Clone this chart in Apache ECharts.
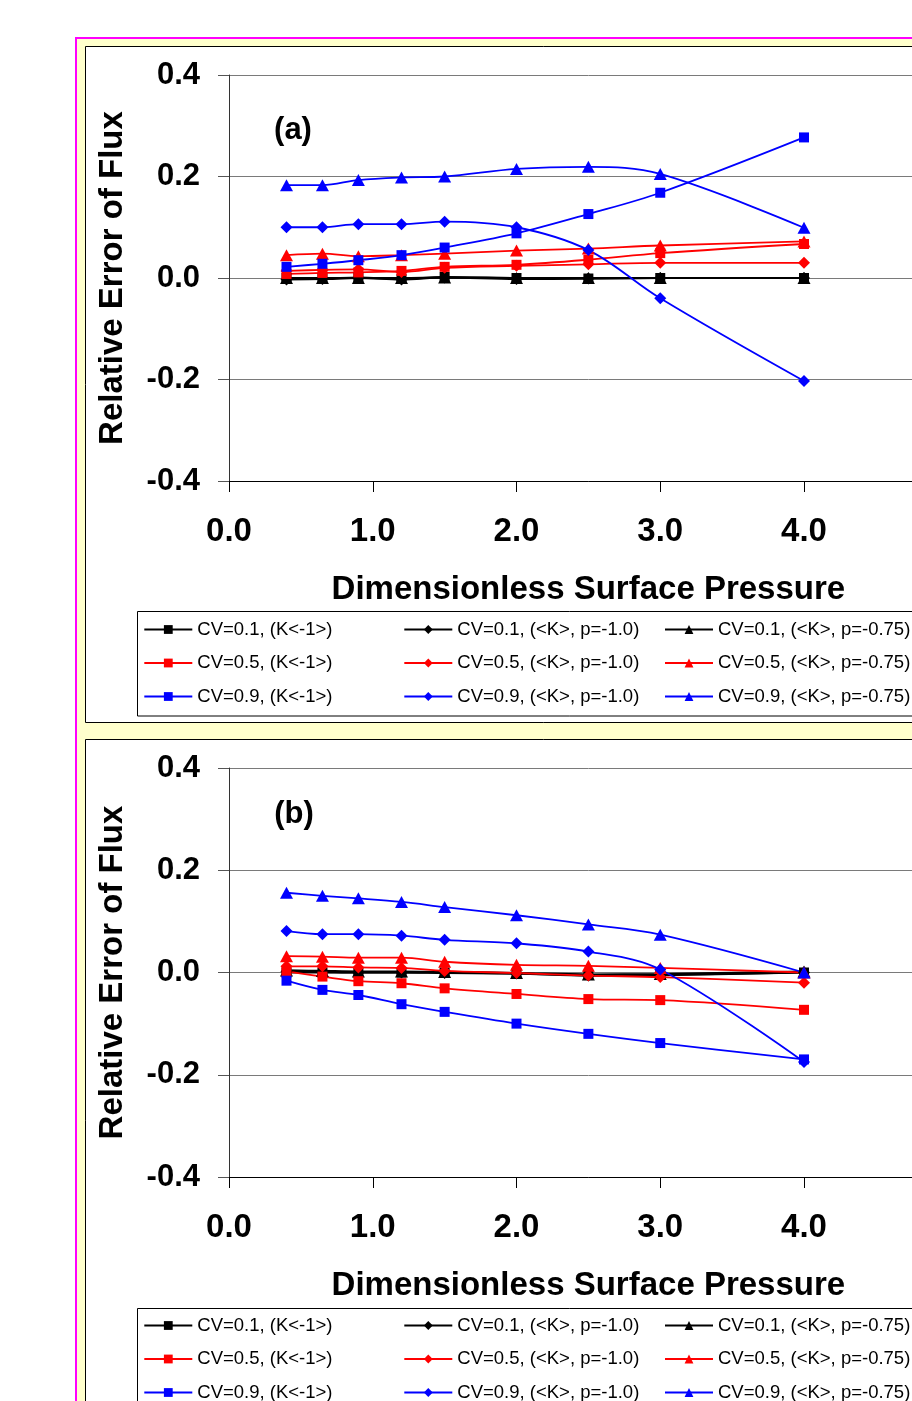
<!DOCTYPE html>
<html><head><meta charset="utf-8">
<script src="https://cdn.jsdelivr.net/npm/echarts@6/dist/echarts.min.js"></script>
<style>html,body{margin:0;padding:0;overflow:hidden;background:#fff;width:912px;height:1401px}#c{width:1000px;height:1500px}</style>
</head><body><div id="c"></div>
<script>
// x values (dimensionless surface pressure)
const pressures = [0.4, 0.65, 0.9, 1.2, 1.5, 2.0, 2.5, 3.0, 4.0];
const xTicks = ['0.0', '1.0', '2.0', '3.0', '4.0'];
const yTicks = ['-0.4', '-0.2', '0.0', '0.2', '0.4'];

// Panel (a)
const a_cv01_K    = [0.000, -0.001, 0.001, -0.002, 0.002, 0.000, -0.001, 0.000, 0.000];
const a_cv01_p10  = [-0.003, -0.002, 0.000, -0.003, 0.001, -0.002, -0.001, 0.000, 0.000];
const a_cv01_p075 = [0.000, 0.000, 0.000, 0.000, 0.001, 0.000, 0.000, 0.000, 0.000];
const a_cv05_K    = [0.008, 0.010, 0.011, 0.014, 0.022, 0.026, 0.036, 0.049, 0.067];
const a_cv05_p10  = [0.014, 0.016, 0.017, 0.012, 0.020, 0.024, 0.027, 0.030, 0.030];
const a_cv05_p075 = [0.045, 0.048, 0.043, 0.045, 0.048, 0.054, 0.058, 0.064, 0.072];
const a_cv09_K    = [0.022, 0.028, 0.035, 0.045, 0.060, 0.088, 0.126, 0.168, 0.277];
const a_cv09_p10  = [0.100, 0.100, 0.106, 0.106, 0.111, 0.100, 0.055, -0.040, -0.203];
const a_cv09_p075 = [0.183, 0.183, 0.193, 0.198, 0.200, 0.215, 0.219, 0.205, 0.099];

// Panel (b)
const b_cv01_K    = [0.000, 0.000, 0.000, 0.000, 0.000, -0.002, -0.005, -0.004, 0.000];
const b_cv01_p10  = [0.002, 0.001, 0.000, 0.000, -0.001, -0.002, -0.006, -0.005, 0.000];
const b_cv01_p075 = [0.004, 0.003, 0.002, 0.002, 0.001, -0.001, -0.004, -0.003, 0.002];
const b_cv05_K    = [0.002, -0.008, -0.017, -0.021, -0.031, -0.042, -0.052, -0.054, -0.073];
const b_cv05_p10  = [0.012, 0.012, 0.010, 0.009, 0.003, -0.001, -0.006, -0.009, -0.020];
const b_cv05_p075 = [0.032, 0.031, 0.029, 0.029, 0.021, 0.015, 0.013, 0.009, 0.000];
const b_cv09_K    = [-0.016, -0.034, -0.044, -0.062, -0.077, -0.100, -0.120, -0.138, -0.170];
const b_cv09_p10  = [0.081, 0.075, 0.075, 0.072, 0.064, 0.057, 0.041, 0.006, -0.175];
const b_cv09_p075 = [0.156, 0.150, 0.145, 0.138, 0.128, 0.112, 0.094, 0.074, 0.000];

const cvLabels = ['CV=0.1', 'CV=0.5', 'CV=0.9'];
const typeLabels = ['(K<-1>)', '(<K>, p=-1.0)', '(<K>, p=-0.75)'];
const panelLabels = ['(a)', '(b)'];
const xTitle = 'Dimensionless Surface Pressure';
const yTitle = 'Relative Error of Flux';

const panelData = [
  [[a_cv01_K, a_cv01_p10, a_cv01_p075], [a_cv05_K, a_cv05_p10, a_cv05_p075], [a_cv09_K, a_cv09_p10, a_cv09_p075]],
  [[b_cv01_K, b_cv01_p10, b_cv01_p075], [b_cv05_K, b_cv05_p10, b_cv05_p075], [b_cv09_K, b_cv09_p10, b_cv09_p075]]
];

const colors = ['#000000', '#FF0000', '#0000FF'];
const symbols = ['rect', 'diamond', 'triangle'];
const symSizes = [10, 12, [13, 12]];
const FONT = '"Liberation Sans", Arial, sans-serif';

const gridTops = [75, 768];
const gridHeights = [406, 409];
const gridLeft = 229;
const gridWidth = 718.75;

const grids = [], xAxes = [], yAxes = [], series = [], legends = [];
const fmt = v => (Math.abs(v) < 1e-9 ? 0 : v).toFixed(1);

for (let p = 0; p < 2; p++) {
  grids.push({left: gridLeft, top: gridTops[p], width: gridWidth, height: gridHeights[p], containLabel: false});
  xAxes.push({
    gridIndex: p, type: 'value', min: 0, max: 5, interval: 1,
    axisLine: {show: true, onZero: false, lineStyle: {color: '#000', width: 1}},
    axisTick: {show: true, inside: false, length: 11, lineStyle: {color: '#000'}},
    axisLabel: {margin: 34, fontSize: 33, fontWeight: 'bold', color: '#000', fontFamily: FONT, formatter: fmt},
    splitLine: {show: false},
    name: xTitle, nameLocation: 'middle', nameGap: 109,
    nameTextStyle: {fontSize: 33, fontWeight: 'bold', color: '#000', fontFamily: FONT, verticalAlign: 'middle'}
  });
  yAxes.push({
    gridIndex: p, type: 'value', min: -0.4, max: 0.4, interval: 0.2,
    axisLine: {show: true, onZero: false, lineStyle: {color: '#333', width: 1}},
    axisTick: {show: true, inside: false, length: 11, lineStyle: {color: '#555'}},
    axisLabel: {margin: 29, fontSize: 31, fontWeight: 'bold', color: '#000', fontFamily: FONT, formatter: fmt},
    splitLine: {show: true, lineStyle: {color: '#7a7a7a', width: 1}},
    name: yTitle, nameLocation: 'middle', nameGap: 116, nameRotate: 90,
    nameTextStyle: {fontSize: 33, fontWeight: 'bold', color: '#000', fontFamily: FONT, verticalAlign: 'middle'}
  });
  for (let i = 0; i < 3; i++) {
    for (let j = 0; j < 3; j++) {
      const vals = panelData[p][i][j];
      series.push({
        type: 'line', name: cvLabels[i] + ', ' + typeLabels[j],
        xAxisIndex: p, yAxisIndex: p,
        data: pressures.map((x, k) => [x, vals[k]]),
        smooth: 0.35,
        symbol: symbols[j], symbolSize: symSizes[j],
        showAllSymbol: true,
        lineStyle: {color: colors[i], width: i === 0 ? 2.2 : 1.8},
        itemStyle: {color: colors[i]},
        emphasis: {disabled: true},
        animation: false
      });
    }
  }
}

const legendTops = [619.5, 1315.5];
const legendLefts = [143.3, 403.3, 664];
for (let p = 0; p < 2; p++) {
  for (let j = 0; j < 3; j++) {
    legends.push({
      orient: 'vertical', left: legendLefts[j], top: legendTops[p],
      itemWidth: 48, itemHeight: 11, itemGap: 13.5, padding: 0,
      height: 120,
      selectedMode: false,
      textStyle: {fontSize: 18.5, fontFamily: FONT, color: '#000', lineHeight: 20},
      data: cvLabels.map(cv => cv + ', ' + typeLabels[j])
    });
  }
}

const graphic = [
  {type: 'rect', z: -10, shape: {x: 76, y: 38, width: 1000, height: 1500}, style: {fill: '#FFFFCC', stroke: '#FF00FF', lineWidth: 2}},
  {type: 'rect', z: -9, shape: {x: 85.5, y: 46.5, width: 1000, height: 676}, style: {fill: '#FFFFFF', stroke: '#000', lineWidth: 1}},
  {type: 'rect', z: -9, shape: {x: 85.5, y: 739.5, width: 1000, height: 800}, style: {fill: '#FFFFFF', stroke: '#000', lineWidth: 1}},
  {type: 'rect', z: -8, shape: {x: 137.5, y: 611.5, width: 900, height: 104.5}, style: {fill: '#FFFFFF', stroke: '#000', lineWidth: 1}},
  {type: 'rect', z: -8, shape: {x: 137.5, y: 1308.5, width: 900, height: 200}, style: {fill: '#FFFFFF', stroke: '#000', lineWidth: 1}},
  {type: 'text', z: 10, x: 293, y: 130, style: {text: panelLabels[0], font: 'bold 31px ' + FONT, fill: '#000', textAlign: 'center', textVerticalAlign: 'middle'}},
  {type: 'text', z: 10, x: 294, y: 814, style: {text: panelLabels[1], font: 'bold 31px ' + FONT, fill: '#000', textAlign: 'center', textVerticalAlign: 'middle'}}
];

const chart = echarts.init(document.getElementById('c'), null, {renderer: 'canvas'});
chart.setOption({
  animation: false,
  backgroundColor: '#FFFFFF',
  grid: grids, xAxis: xAxes, yAxis: yAxes,
  legend: legends, series: series, graphic: graphic
});
</script></body></html>
